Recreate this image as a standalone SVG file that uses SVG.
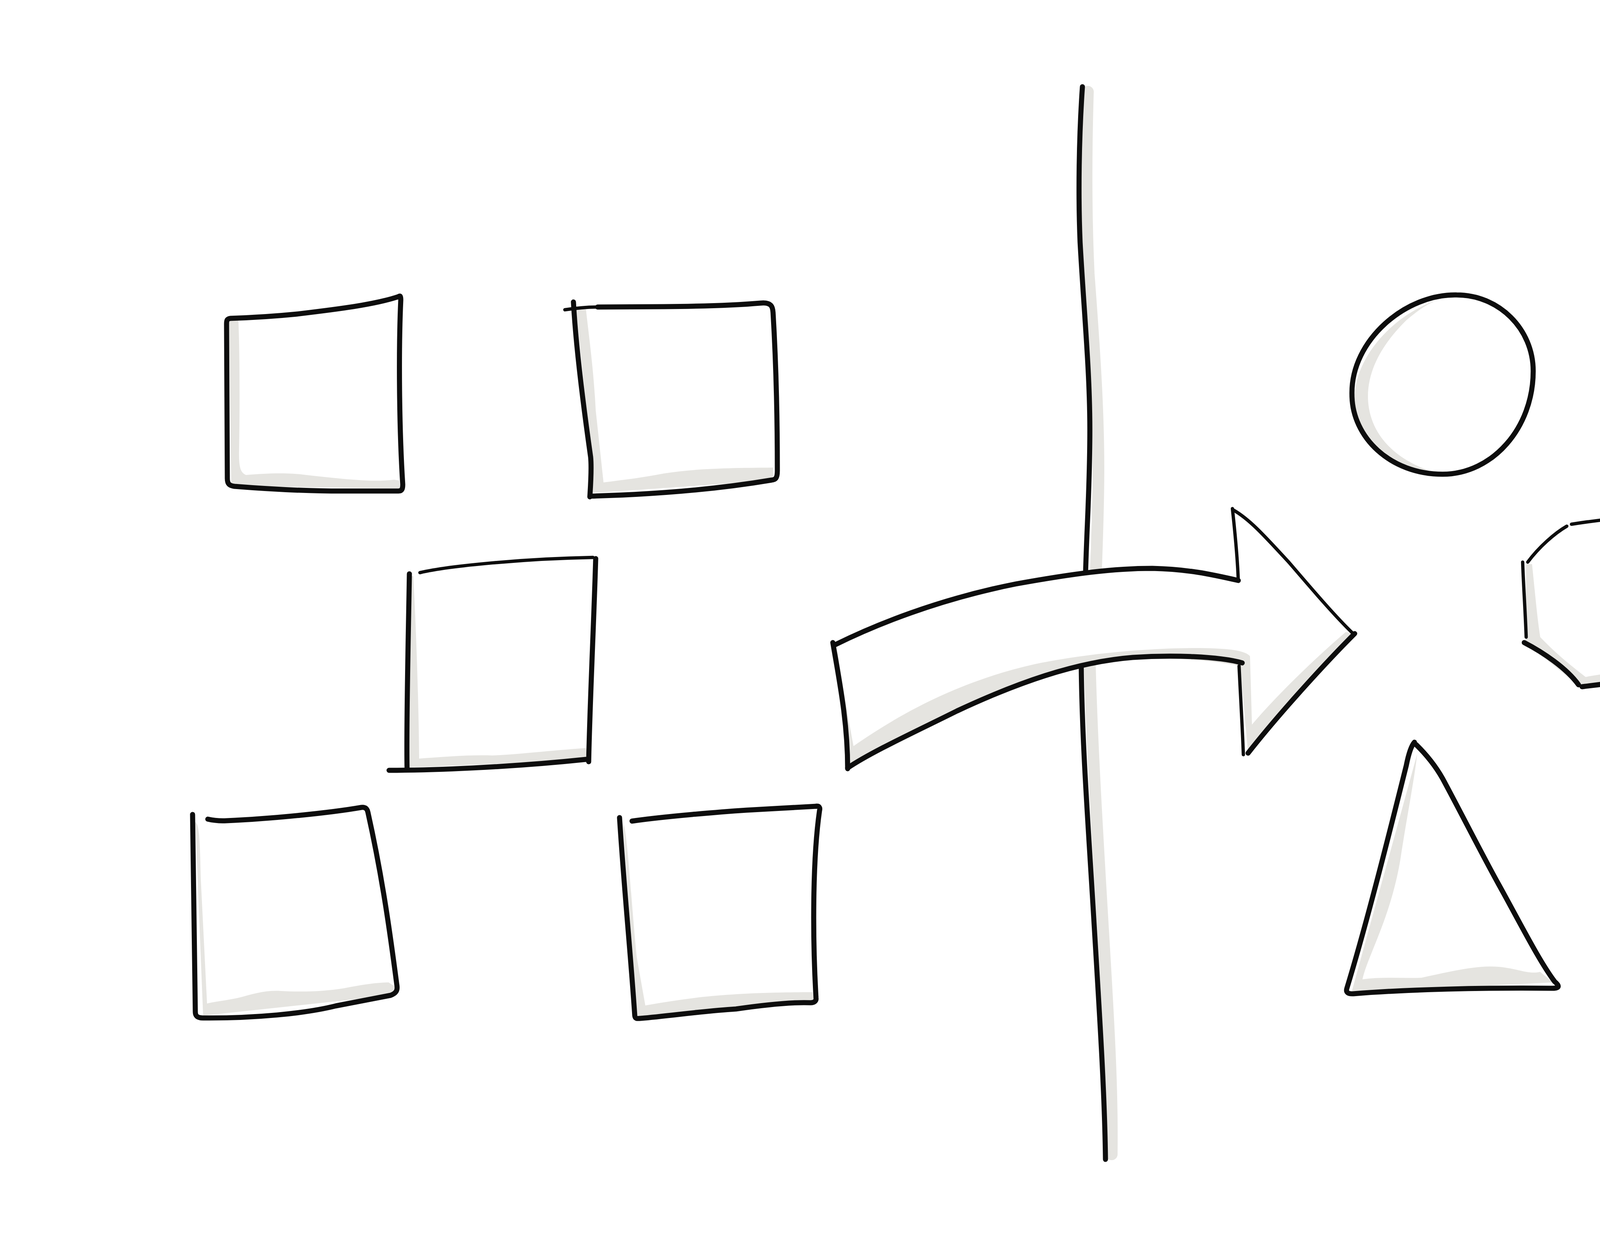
<svg xmlns="http://www.w3.org/2000/svg" width="5600" height="3200" viewBox="0 0 5600 3200">
<style>
.k{fill:none;stroke:#0d0d0d;stroke-width:13;stroke-linecap:round;stroke-linejoin:round}
.t{fill:none;stroke:#0d0d0d;stroke-width:8.5;stroke-linecap:round;stroke-linejoin:round}
.s{fill:#e5e4e0;stroke:none}
.sl{fill:none;stroke:#e5e4e0;stroke-width:30;stroke-linecap:round}
</style>
<rect width="5600" height="3200" fill="#ffffff"/>

<g id="connectors">
  <g id="divider">
    <path class="sl" d="M2785,235 C2780,400 2780,550 2787,700 C2802,900 2812,1050 2812,1200 C2812,1300 2808,1400 2805,1480"/>
    <path class="sl" d="M2790,1700 C2795,1900 2810,2150 2825,2400 C2840,2650 2848,2800 2846,2955"/>
    <path class="k" d="M2771,222 C2762,350 2760,500 2765,620 C2775,800 2790,950 2790,1100 C2790,1250 2782,1350 2779,1470"/>
    <path class="k" d="M2768,1705 C2770,1900 2785,2100 2800,2350 C2815,2600 2828,2800 2830,2968"/>
  </g>
  <g id="arrow">
    <path fill="#ffffff" d="M2135,1650 C2250,1595 2450,1520 2650,1485 C2800,1462 2950,1445 3166,1488 L3155,1305 L3466,1622 L3195,1928 L3172,1705 C3100,1680 2900,1670 2780,1702 C2600,1740 2400,1840 2170,1966 C2160,1860 2150,1750 2135,1650 Z"/>
    <path class="s" d="M2142,1655 C2155,1750 2170,1830 2185,1910 C2300,1830 2450,1745 2650,1700 C2800,1668 3000,1655 3110,1660 C3160,1662 3190,1668 3200,1680 L3205,1855 C3260,1790 3350,1700 3445,1618 L3466,1622 L3195,1928 L3175,1705 C3050,1680 2900,1680 2780,1702 C2600,1740 2400,1840 2170,1966 Z"/>
    <path class="k" d="M2137,1651 C2240,1600 2400,1535 2600,1495 C2750,1468 2850,1455 2950,1455 C3040,1457 3100,1470 3170,1486"/>
    <path class="t" d="M3170,1488 C3168,1420 3160,1350 3155,1302"/>
    <path class="t" d="M3158,1306 C3200,1330 3240,1375 3300,1440 C3360,1510 3420,1580 3462,1620"/>
    <path class="k" d="M3468,1622 C3400,1690 3280,1820 3195,1928"/>
    <path class="t" d="M3183,1932 C3180,1850 3175,1770 3172,1705"/>
    <path class="k" d="M3180,1697 C3120,1680 3000,1676 2900,1683 C2750,1695 2600,1750 2450,1820 C2350,1870 2230,1925 2170,1966"/>
    <path class="k" d="M2132,1645 C2150,1750 2170,1850 2170,1968"/>
  </g>
</g>

<g id="square-1">
  <path class="s" d="M586,815 L610,815 C614,900 614,1050 612,1150 C611,1195 615,1210 630,1216 C680,1212 720,1210 768,1214 C800,1218 839,1222 880,1226 C930,1230 964,1233 1009,1228 L1022,1230 L1024,1250 L592,1245 Z"/>
  <path class="k" d="M1021,759 C960,780 860,792 760,804 C680,812 620,814 590,815 C580,816 580,822 580,830 L582,1225 C582,1240 588,1243 600,1245 C700,1253 800,1258 900,1257 L1020,1257 C1030,1257 1031,1250 1031,1240 C1022,1100 1020,900 1026,768 C1026,760 1025,756 1021,759"/>
</g>

<g id="square-2">
  <path class="s" d="M1475,790 L1500,792 C1510,880 1520,950 1525,1050 L1545,1235 C1600,1228 1650,1222 1700,1212 C1780,1200 1850,1198 1979,1197 L1979,1230 L1515,1262 L1505,1100 C1498,1000 1485,900 1475,790 Z"/>
  <path class="t" d="M1446,793 C1480,788 1505,786 1530,786"/>
  <path class="k" d="M1530,786 L1700,785 C1820,784 1900,780 1946,776 C1975,773 1978,785 1979,800 C1988,950 1990,1100 1990,1205 C1990,1225 1985,1228 1975,1229 C1850,1250 1700,1265 1514,1270"/>
  <path class="k" d="M1468,773 C1475,900 1495,1050 1512,1170 C1515,1200 1512,1240 1510,1272"/>
</g>

<g id="square-3">
  <path class="s" d="M1050,1475 L1058,1475 C1065,1600 1072,1800 1073,1942 C1130,1938 1200,1932 1260,1934 C1320,1932 1400,1922 1500,1915 L1505,1945 L1045,1965 Z"/>
  <path class="t" d="M1075,1466 C1150,1448 1350,1430 1518,1427"/>
  <path class="k" d="M1525,1430 C1520,1600 1510,1800 1507,1950"/>
  <path class="k" d="M1048,1469 C1045,1650 1040,1850 1042,1965"/>
  <path class="k" d="M996,1972 C1100,1972 1300,1965 1500,1944"/>
</g>

<g id="square-4">
  <path class="s" d="M500,2105 C510,2108 512,2150 514,2250 L530,2569 C560,2562 590,2560 620,2552 C660,2540 690,2535 720,2537 C780,2540 830,2538 880,2530 C930,2520 970,2515 995,2515 L1010,2525 L1005,2548 L520,2600 Z"/>
  <path class="k" d="M493,2085 L500,2590 C500,2602 506,2606 520,2606 C650,2607 780,2595 860,2575 L1000,2548 C1015,2542 1018,2535 1016,2522 C1000,2400 980,2250 942,2080 C940,2070 935,2066 925,2067 C850,2080 700,2096 580,2101 C560,2102 545,2100 532,2097"/>
</g>

<g id="square-5">
  <path class="s" d="M1595,2110 C1605,2110 1615,2300 1630,2450 L1652,2574 C1700,2565 1750,2558 1800,2552 C1870,2545 1950,2540 2080,2540 L2085,2568 L1630,2605 Z"/>
  <path class="k" d="M1586,2093 C1598,2280 1615,2450 1625,2600 C1626,2608 1630,2608 1640,2607 C1720,2600 1800,2588 1884,2583 C1960,2572 2030,2565 2075,2567 C2085,2567 2090,2562 2089,2555 C2080,2400 2080,2200 2098,2075 C2100,2068 2097,2063 2090,2064"/>
  <path class="k" d="M1618,2102 C1700,2090 1850,2078 1911,2074 L2090,2064"/>
</g>

<g id="circle">
  <path class="s" d="M3680,768 C3580,800 3475,900 3468,1010 C3465,1110 3540,1190 3660,1205 C3570,1175 3505,1110 3502,1020 C3500,930 3560,860 3600,820 C3630,795 3650,780 3680,768 Z"/>
  <path class="k" d="M3729,755 C3837,755 3925,842 3925,950 C3925,1095 3821,1214 3693,1214 C3560,1214 3461,1120 3461,1010 C3458,870 3600,752 3729,755 Z"/>
</g>

<g id="square-6">
  <path class="s" d="M4520,790 L4535,790 C4534,950 4520,1100 4515,1200 C4540,1190 4600,1180 4650,1178 C4700,1176 4730,1168 4760,1172 C4800,1182 4850,1180 4925,1190 L4925,1215 C4800,1205 4650,1200 4500,1220 L4490,1200 C4500,1060 4510,920 4520,790 Z"/>
  <path class="k" d="M4488,789 C4600,760 4750,727 4820,720 C4870,714 4900,725 4910,745 C4920,765 4920,800 4922,830 L4925,1000 C4926,1100 4935,1180 4935,1200 C4935,1225 4920,1225 4900,1222 C4800,1210 4700,1204 4600,1208 C4550,1210 4520,1214 4496,1219"/>
  <path class="t" d="M4514,790 C4500,950 4480,1100 4462,1245"/>
</g>

<g id="octagon">
  <path class="s" d="M3907,1444 L3922,1444 C3930,1520 3935,1580 3943,1631 C3990,1680 4030,1710 4059,1733 C4100,1725 4150,1718 4211,1720 L4240,1730 L4045,1758 L3905,1645 Z"/>
  <path class="t" d="M4023,1342 C4080,1333 4140,1326 4195,1323"/>
  <path class="k" d="M4198,1327 C4240,1375 4290,1420 4327,1447"/>
  <path class="t" d="M4339,1449 C4340,1510 4345,1560 4354,1612"/>
  <path class="t" d="M4350,1617 L4264,1738"/>
  <path class="k" d="M4237,1731 C4160,1745 4100,1752 4050,1758"/>
  <path class="k" d="M4041,1753 C4010,1710 3950,1670 3902,1645"/>
  <path class="t" d="M3907,1631 C3905,1570 3900,1500 3898,1439"/>
  <path class="t" d="M3911,1439 C3940,1400 3980,1365 4011,1347"/>
</g>

<g id="triangle">
  <path class="s" d="M3628,1930 C3620,2000 3600,2100 3585,2200 C3560,2350 3500,2450 3488,2507 C3540,2500 3590,2505 3639,2503 C3700,2490 3780,2470 3836,2475 C3890,2480 3910,2495 3943,2488 L3975,2515 L3460,2540 Z"/>
  <path class="k" d="M3625,1906 C3660,1940 3680,1970 3693,1993 C3740,2080 3790,2180 3836,2263 C3890,2360 3940,2460 3980,2513 C3995,2525 3990,2530 3975,2530 C3800,2528 3600,2533 3465,2544 C3450,2545 3445,2540 3448,2530 C3500,2360 3560,2120 3600,1960 C3605,1935 3612,1910 3621,1900"/>
</g>

<g id="semicircle">
  <path class="s" d="M4345,2195 C4352,2240 4365,2300 4380,2335 C4395,2375 4410,2405 4429,2421 C4480,2480 4540,2520 4590,2540 C4480,2525 4380,2450 4350,2340 C4337,2280 4335,2230 4345,2195 Z"/>
  <path class="t" d="M4350,2192 C4500,2165 4700,2135 4871,2122"/>
  <path class="k" d="M4871,2120 C4890,2200 4910,2270 4910,2340 C4910,2460 4780,2540 4630,2540 C4480,2540 4370,2450 4345,2330 C4333,2270 4333,2210 4340,2178"/>
</g>
</svg>
